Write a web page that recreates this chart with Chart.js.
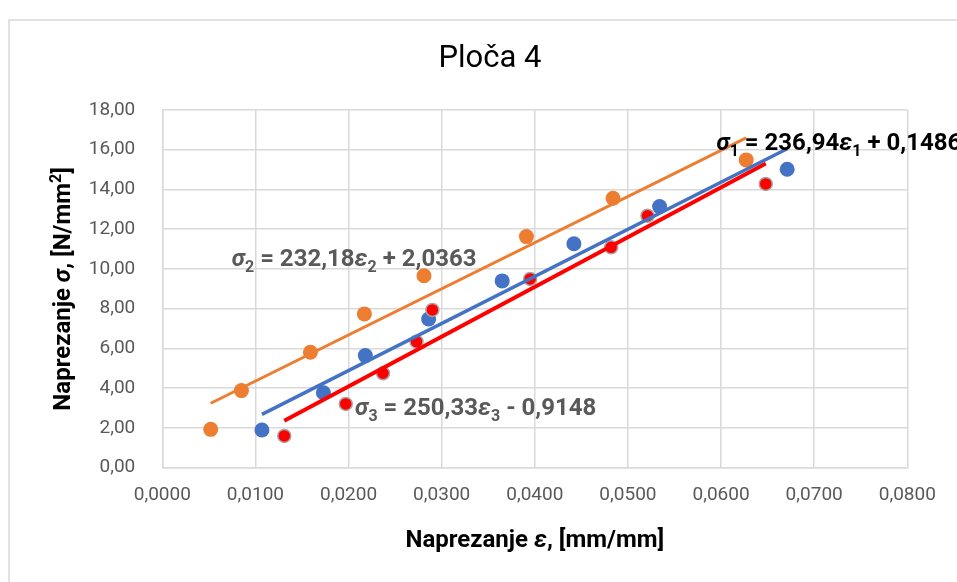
<!DOCTYPE html>
<html>
<head>
<meta charset="utf-8">
<script src="https://cdn.jsdelivr.net/npm/chart.js@4.4.1/dist/chart.umd.min.js"></script>
<style>
  html, body { margin: 0; padding: 0; background: #fff; }
  canvas { display: block; }
</style>
</head>
<body>
<canvas id="chart" width="957" height="582"></canvas>
<script>
// strain (x) and stress (y) per series
const eps1 = [0.0107, 0.0173, 0.0218, 0.0286, 0.0365, 0.0442, 0.0534, 0.0671];
const sig1 = [1.90, 3.77, 5.64, 7.48, 9.40, 11.27, 13.14, 15.02];
const eps2 = [0.0052, 0.0085, 0.0159, 0.0217, 0.0281, 0.0391, 0.0484, 0.0627];
const sig2 = [1.93, 3.88, 5.81, 7.74, 9.66, 11.63, 13.56, 15.49];
const eps3 = [0.0131, 0.0197, 0.0237, 0.0273, 0.0290, 0.0395, 0.0482, 0.0521, 0.0648];
const sig3 = [1.60, 3.21, 4.75, 6.34, 7.94, 9.50, 11.09, 12.68, 14.28];

// trendline coefficients shown on the chart
const slopes = [236.94, 232.18, 250.33];
const intercepts = [0.1486, 2.0363, -0.9148];
const eqTexts = [
  ['= 236,94', '+ 0,1486'],
  ['= 232,18', '+ 2,0363'],
  ['= 250,33', '- 0,9148']
];
const title = 'Ploča 4';

const FONT = 'Roboto, "Noto Sans", sans-serif';

function pts(xs, ys) {
  return xs.map((x, i) => ({ x: x, y: ys[i] }));
}
function trend(xs, k) {
  const a = Math.min(...xs), b = Math.max(...xs);
  return [a, b].map(x => ({ x: x, y: slopes[k] * x + intercepts[k] }));
}

// draw text made of runs (italic, sub, sup)
function drawRuns(ctx, runs, x, y, size, color, align, weight) {
  const w = weight || 'bold';
  const fontOf = r => {
    const s = (r.sub || r.sup) ? Math.round(size * 0.68) : size;
    return (r.italic ? 'italic ' : '') + w + ' ' + s + 'px ' + FONT;
  };
  let total = 0;
  runs.forEach(r => { ctx.font = fontOf(r); total += ctx.measureText(r.t).width; });
  let cx = align === 'center' ? x - total / 2 : x;
  ctx.fillStyle = color;
  ctx.textAlign = 'left';
  ctx.textBaseline = 'alphabetic';
  runs.forEach(r => {
    ctx.font = fontOf(r);
    const dy = r.sub ? size * 0.25 : r.sup ? -size * 0.38 : 0;
    ctx.fillText(r.t, cx, y + dy);
    cx += ctx.measureText(r.t).width;
  });
}

// where the equation boxes sit, in data units
const eqPos = [
  { x: 0.0595, y: 15.99, color: '#000000' },
  { x: 0.00745, y: 10.17, color: '#595959' },
  { x: 0.0207, y: 2.65, color: '#595959' }
];

const extras = {
  id: 'extras',
  beforeDraw(chart) {
    const ctx = chart.ctx;
    ctx.save();
    ctx.fillStyle = '#ffffff';
    ctx.fillRect(0, 0, chart.width, chart.height);
    ctx.strokeStyle = '#d9d9d9';
    ctx.lineWidth = 1.5;
    ctx.strokeRect(9, 20, 1200, 1200);
    ctx.restore();
  },
  afterDraw(chart) {
    const ctx = chart.ctx;
    const xs = chart.scales.x, ys = chart.scales.y;
    ctx.save();
    drawRuns(ctx, [{ t: title }], 490, 67, 31, '#000000', 'center', 'normal');
    // equations
    eqPos.forEach((p, k) => {
      const n = String(k + 1);
      drawRuns(ctx, [
        { t: 'σ', italic: true }, { t: n, sub: true },
        { t: ' ' + eqTexts[k][0] },
        { t: 'ε', italic: true }, { t: n, sub: true },
        { t: ' ' + eqTexts[k][1] }
      ], xs.getPixelForValue(p.x), ys.getPixelForValue(p.y), 24, p.color, 'left');
    });
    // axis titles
    const a = chart.chartArea;
    drawRuns(ctx, [
      { t: 'Naprezanje ' }, { t: 'ε', italic: true }, { t: ', [mm/mm]' }
    ], (a.left + a.right) / 2, 547, 24, '#000000', 'center');
    ctx.translate(70, (a.top + a.bottom) / 2);
    ctx.rotate(-Math.PI / 2);
    drawRuns(ctx, [
      { t: 'Naprezanje ' }, { t: 'σ', italic: true }, { t: ', [N/mm' },
      { t: '2', sup: true }, { t: ']' }
    ], 0, 0, 24, '#000000', 'center');
    ctx.restore();
  }
};

const lineDs = (k, xs, color, w) => ({
  type: 'line',
  data: trend(xs, k),
  borderColor: color,
  borderWidth: w,
  pointRadius: 0,
  fill: false,
  tension: 0
});

new Chart(document.getElementById('chart'), {
  type: 'scatter',
  data: {
    datasets: [
      lineDs(1, eps2, '#ED7D31', 3),
      lineDs(0, eps1, '#4472C4', 3.5),
      lineDs(2, eps3, '#FF0000', 4),
      { data: pts(eps3, sig3), backgroundColor: '#FF0000', borderColor: '#a6a6a6', borderWidth: 1.5, pointRadius: 6.5 },
      { data: pts(eps2, sig2), backgroundColor: '#ED7D31', borderColor: '#ED7D31', borderWidth: 0, pointRadius: 7.5 },
      { data: pts(eps1, sig1), backgroundColor: '#4472C4', borderColor: '#4472C4', borderWidth: 0, pointRadius: 7.5 }
    ]
  },
  options: {
    responsive: false,
    animation: false,
    layout: { padding: { left: 0, right: 49.7, top: 110, bottom: 0 } },
    plugins: {
      legend: { display: false },
      tooltip: { enabled: false },
      title: { display: false }
    },
    scales: {
      x: {
        type: 'linear',
        min: 0, max: 0.08,
        ticks: {
          stepSize: 0.01,
          color: '#595959',
          font: { family: FONT, size: 19 },
          padding: 16,
          callback: v => v.toFixed(4).replace('.', ',')
        },
        grid: { color: '#d9d9d9', lineWidth: 1.5, drawTicks: false },
        border: { color: '#d9d9d9', width: 1.5 },
        afterFit: s => { s.height = 114.3; }
      },
      y: {
        type: 'linear',
        min: 0, max: 18,
        ticks: {
          stepSize: 2,
          color: '#595959',
          font: { family: FONT, size: 19 },
          padding: 27,
          callback: v => v.toFixed(2).replace('.', ',')
        },
        grid: { color: '#d9d9d9', lineWidth: 1.5, drawTicks: false },
        border: { color: '#d9d9d9', width: 1.5 },
        afterFit: s => { s.width = 162.3; }
      }
    }
  },
  plugins: [extras]
});
</script>
</body>
</html>
